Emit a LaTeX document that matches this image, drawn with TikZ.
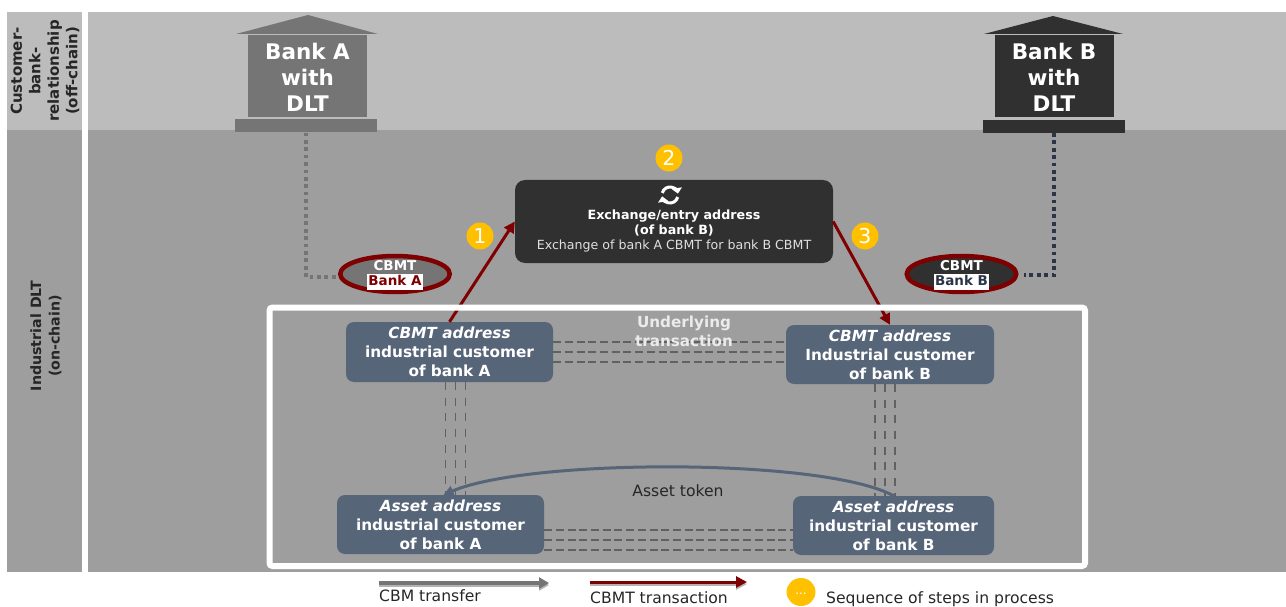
\documentclass[tikz,border=0pt]{standalone}
\usepackage{fontspec}
\setmainfont{DejaVu Sans}
\usetikzlibrary{positioning}
\usetikzlibrary{shapes.geometric}
\usetikzlibrary{arrows.meta}

\definecolor{bandLight}{HTML}{BCBCBC}
\definecolor{bandDark}{HTML}{9E9E9E}
\definecolor{grayA}{HTML}{757575}
\definecolor{grayB}{HTML}{303030}
\definecolor{slateBox}{HTML}{576579}
\definecolor{navyDot}{HTML}{2B3547}
\definecolor{cbmtRed}{HTML}{7F0000}
\definecolor{stepGold}{HTML}{FFC000}

\newcommand{\fsz}[2]{\fontsize{#1}{#2}\selectfont}
\newcommand{\bankchip}[2]{{\fboxsep=1pt\colorbox{white}{\rule[-3.5pt]{0pt}{14pt}\textcolor{#1}{#2}}}}

\tikzset{
    bankbody/.style={minimum width=119pt,minimum height=82pt,inner sep=0pt,align=center,text=white,font=\fsz{21.5}{26}\bfseries},
    bankbase/.style={minimum width=142pt,minimum height=13pt,inner sep=0pt},
    tokenoval/.style={ellipse,draw=cbmtRed,line width=4.5pt,minimum width=109.5pt,minimum height=36pt,inner xsep=0pt,inner ysep=-8pt,align=center,text=white,font=\fsz{13.5}{15}\bfseries},
    addrbox/.style={rounded corners=8pt,fill=slateBox,inner sep=0pt,align=center,text=white,font=\fsz{15.3}{19}\bfseries},
    stepdot/.style={circle,fill=stepGold,minimum size=27pt,inner sep=0pt,text=white,font=\fsz{20.5}{24}},
    lanelabel/.style={rotate=90,align=center,text=black!85,font=\fsz{15}{18.5}\bfseries},
    plainlabel/.style={text=black!85,inner sep=0pt,font=\fsz{15.6}{18}},
    cbmtarrow/.style={draw=cbmtRed,line width=3pt,-{Triangle[length=11pt,width=11pt]}},
    tiedash/.style={draw=black!62,line width=1.6pt,dash pattern=on 8pt off 3.7pt},
    tiedashup/.style={draw=black!62,line width=1.6pt,dash pattern=on 8pt off 7.6pt},
    dotlink/.style={line width=3.5pt,dash pattern=on 3.7pt off 3.7pt},
    legshadow/.style={preaction={draw=black!30,line width=3pt,transform canvas={yshift=-2pt}}},
}

\begin{document}
\begin{tikzpicture}[x=1pt,y=-1pt]
    \useasboundingbox (0,0) rectangle (1286,607);
    % bands
    \fill[bandLight] (7,12) rectangle (82,130);
    \fill[bandDark] (7,130) rectangle (82,572);
    \fill[bandLight] (88,12) rectangle (1286,130);
    \fill[bandDark] (88,130) rectangle (1286,572);
    \node (laneTop) [lanelabel] at (45,71) {Customer-\\bank-\\relationship\\(off-chain)};
    \node (laneBottom) [lanelabel,font=\fsz{14.2}{18.5}\bfseries] at (46,336) {Industrial DLT\\(on-chain)};

    % banks
    \node (bankA) [bankbody,fill=grayA] at (307.5,76) {\rule{0pt}{18.5pt}Bank A\\with\\DLT};
    \node (bankAbase) [bankbase,fill=grayA,below=2pt of bankA,xshift=-1.5pt] {};
    \fill[grayA] (236,34) -- (308,15) -- (378,34) -- cycle;
    \node (bankB) [bankbody,fill=grayB] at (1054,76.5) {\rule{0pt}{18.5pt}Bank B\\with\\DLT};
    \node (bankBbase) [bankbase,fill=grayB,below=2pt of bankB] {};
    \fill[grayB] (984,34) -- (1053,16) -- (1123,34) -- cycle;

    % tokens
    \node (ovalA) [tokenoval,fill=grayA] at (395,274) {\rule{0pt}{13pt}CBMT\\\bankchip{cbmtRed}{Bank A}};
    \node (ovalB) [tokenoval,fill=grayB] at (961.5,274) {\rule{0pt}{13pt}CBMT\\\bankchip{navyDot}{Bank B}};
    \draw[dotlink,draw=grayA] (bankAbase.south) |- ([yshift=-3pt]ovalA.west);
    \draw[dotlink,draw=navyDot] (bankBbase.south) |- ([xshift=5pt,yshift=-1pt]ovalB.east);

    % exchange
    \node (exBox) [rounded corners=10pt,fill=grayB,minimum width=318pt,minimum height=83pt,inner sep=0pt] at (674,221.5) {};
    \node (exText) [align=center,text=white,below=27pt of exBox.north,font=\fsz{12.7}{15}] {\textbf{Exchange/entry address}\\\textbf{(of bank B)}\\\textcolor{white!88!black}{\fsz{12.6}{15}Exchange of bank A CBMT for bank B CBMT}};
    \coordinate (syncIcon) at (670,195);
    \foreach \startAng in {165,-15}
        \draw[white,line width=3pt,-{Triangle[length=5.5pt,width=10pt]}] ([shift={(\startAng:8pt)}]syncIcon) arc[start angle=\startAng,delta angle=-155,radius=8pt];

    \node (stepOne) [stepdot] at (480,236) {1};
    \node (stepTwo) [stepdot] at (669,158) {2};
    \node (stepThree) [stepdot] at (865,236) {3};

    % addresses
    \node (custA) [addrbox,minimum width=207pt,minimum height=60pt] at (449.5,352) {\textit{CBMT address}\\industrial customer\\of bank A};
    \node (custB) [addrbox,minimum width=208pt,minimum height=59pt] at (890,354.5) {\textit{CBMT address}\\Industrial customer\\of bank B};
    \node (assetA) [addrbox,minimum width=207pt,minimum height=59pt] at (440.5,524.5) {\textit{Asset address}\\industrial customer\\of bank A};
    \node (assetB) [addrbox,minimum width=201pt,minimum height=59pt] at (893.5,525.5) {\textit{Asset address}\\industrial customer\\of bank B};

    % ties between addresses
    \foreach \off in {-10,0,10} {
        \draw[tiedash] ([yshift=\off pt]custA.east) -- ([yshift=\off pt]custA.east -| custB.west);
        \draw[tiedash] ([yshift=\off pt-15.5pt]assetA.east) -- ([yshift=\off pt-15.5pt]assetA.east -| assetB.west);
        \draw[tiedashup] ([xshift=\off pt+6pt]custA.south) -- ([xshift=\off pt+6pt]custA.south |- assetA.north);
        \draw[tiedashup] ([xshift=\off pt-5pt]custB.south) -- ([xshift=\off pt-5pt]custB.south |- assetB.north);
    }
    \node (underTx) [align=center,text=white!92!black,font=\fsz{15.2}{19}\bfseries] at (684,331.5) {Underlying\\transaction};

    % transactions
    \draw[cbmtarrow] (custA.north) -- (exBox.west);
    \draw[cbmtarrow] (exBox.east) -- (custB.north);
    \draw[slateBox,line width=3pt,-{Triangle[length=10pt,width=10pt]}] (assetB.north) .. controls (825,458) and (530,458) .. ([xshift=3pt]assetA.north);
    \node (assetToken) [plainlabel] at (678,491) {Asset token};

    % frame
    \draw[white,line width=6pt,rounded corners=3pt] (269.5,307.5) rectangle (1085,566);

    % legend
    \coordinate (legGrayA) at (379,583);
    \coordinate (legGrayB) at (549,583);
    \coordinate (legRedA) at (590,582);
    \coordinate (legRedB) at (747,582);
    \draw[legshadow,grayA,line width=3.5pt,-{Triangle[length=10pt,width=11pt]}] (legGrayA) -- (legGrayB);
    \draw[legshadow,cbmtarrow,line width=3pt] (legRedA) -- (legRedB);
    \node (legGrayText) [plainlabel,below right=6pt and 0pt of legGrayA] {CBM transfer};
    \node (legRedText) [plainlabel,below right=9pt and 0pt of legRedA] {CBMT transaction};
    \node (legDot) [ellipse,fill=stepGold,minimum width=29pt,minimum height=28pt,inner sep=0pt,text=white,font=\fsz{12}{14}] at (801,592) {\raisebox{-5pt}{...}};
    \node (legDotText) [plainlabel,anchor=west] at (826,599) {Sequence of steps in process};
\end{tikzpicture}
\end{document}
